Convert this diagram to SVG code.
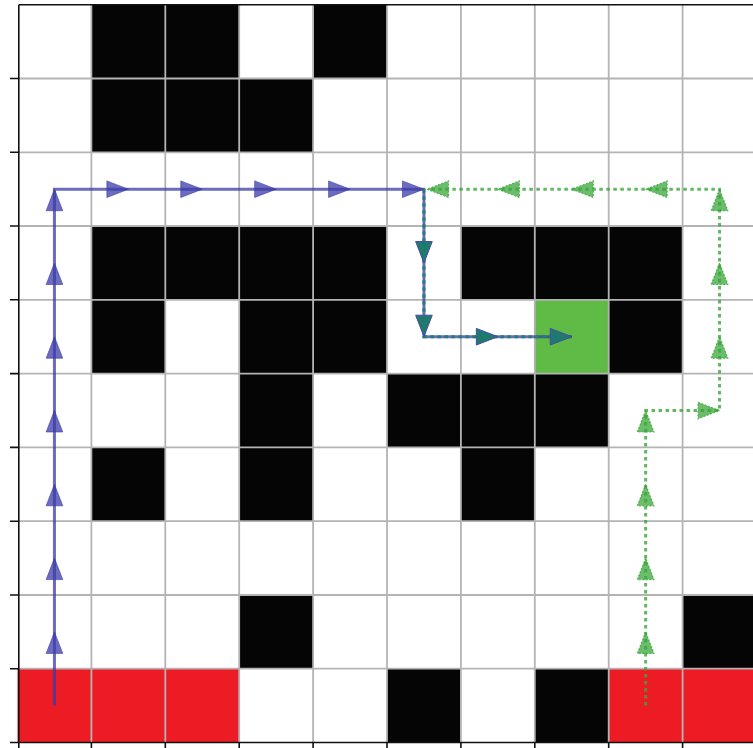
<svg xmlns="http://www.w3.org/2000/svg" xmlns:xlink="http://www.w3.org/1999/xlink" width="753" height="748" viewBox="0 0 753 748">
<style>
.w{fill:#ffffff}
.b{fill:#050505}
.r{fill:#ed1c24}
.g{fill:#5fba46}
.grid{stroke:#b4b4b4;stroke-width:1.8;fill:none}
.spine{stroke:#111;stroke-width:1.6;fill:none}
.bl{stroke:#3b3ba8;stroke-opacity:0.75;stroke-width:3;fill:none}
.gr{stroke:#3aa63a;stroke-opacity:0.8;stroke-width:3;stroke-dasharray:3.5 3.5;fill:none}
.tl{stroke:#1f8070;stroke-width:3;stroke-dasharray:3.5 3.5;fill:none}
.ab{fill:#3b3ba8;fill-opacity:0.75;stroke:#3b3ba8;stroke-opacity:0.6;stroke-width:1}
.ag{fill:#3aa63a;fill-opacity:0.75;stroke:#3aa63a;stroke-opacity:0.8;stroke-width:1.2;stroke-dasharray:2 1.5}
.at{fill:#1f7a6e;stroke:#4a4aa8;stroke-width:1}
</style>
<defs>
<path id="ah" d="M0,0 L-21.5,-8.3 L-21.5,8.3 Z"/>
</defs>
<rect x="0" y="0" width="753" height="748" fill="#ffffff"/>
<g id="cells">
<rect class="b" x="91.4" y="4.7" width="73.9" height="73.8"/>
<rect class="b" x="165.3" y="4.7" width="73.9" height="73.8"/>
<rect class="b" x="313.1" y="4.7" width="73.9" height="73.8"/>
<rect class="b" x="91.4" y="78.5" width="73.9" height="73.8"/>
<rect class="b" x="165.3" y="78.5" width="73.9" height="73.8"/>
<rect class="b" x="239.2" y="78.5" width="73.9" height="73.8"/>
<rect class="b" x="91.4" y="226" width="73.9" height="73.8"/>
<rect class="b" x="165.3" y="226" width="73.9" height="73.8"/>
<rect class="b" x="239.2" y="226" width="73.9" height="73.8"/>
<rect class="b" x="313.1" y="226" width="73.9" height="73.8"/>
<rect class="b" x="460.9" y="226" width="73.9" height="73.8"/>
<rect class="b" x="534.8" y="226" width="73.9" height="73.8"/>
<rect class="b" x="608.7" y="226" width="73.9" height="73.8"/>
<rect class="b" x="91.4" y="299.8" width="73.9" height="73.8"/>
<rect class="b" x="239.2" y="299.8" width="73.9" height="73.8"/>
<rect class="b" x="313.1" y="299.8" width="73.9" height="73.8"/>
<rect class="g" x="534.8" y="299.8" width="73.9" height="73.8"/>
<rect class="b" x="608.7" y="299.8" width="73.9" height="73.8"/>
<rect class="b" x="239.2" y="373.6" width="73.9" height="73.8"/>
<rect class="b" x="387" y="373.6" width="73.9" height="73.8"/>
<rect class="b" x="460.9" y="373.6" width="73.9" height="73.8"/>
<rect class="b" x="534.8" y="373.6" width="73.9" height="73.8"/>
<rect class="b" x="91.4" y="447.4" width="73.9" height="73.8"/>
<rect class="b" x="239.2" y="447.4" width="73.9" height="73.8"/>
<rect class="b" x="460.9" y="447.4" width="73.9" height="73.8"/>
<rect class="b" x="239.2" y="595" width="73.9" height="73.8"/>
<rect class="b" x="682.6" y="595" width="73.9" height="73.8"/>
<rect class="r" x="17.5" y="668.7" width="221.7" height="73.8"/>
<rect class="b" x="387" y="668.7" width="73.9" height="73.8"/>
<rect class="b" x="534.8" y="668.7" width="73.9" height="73.8"/>
<rect class="r" x="608.7" y="668.7" width="147.8" height="73.8"/>
</g>
<g id="grid" class="grid">
<path d="M91.4,4.7V742.5M165.3,4.7V742.5M239.2,4.7V742.5M313.1,4.7V742.5M387,4.7V742.5M460.9,4.7V742.5M534.8,4.7V742.5M608.7,4.7V742.5M682.6,4.7V742.5"/>
<path d="M18.5,78.5H753M18.5,152.3H753M18.5,226H753M18.5,299.8H753M18.5,373.6H753M18.5,447.4H753M18.5,521.2H753M18.5,595H753M18.5,668.7H753"/>
</g>
<g id="axes" class="spine">
<path d="M18.8,4.7V742.5M18.8,4.7H753M18.8,742.5H753"/>
<path d="M10,78.5H18.8M10,152.3H18.8M10,226H18.8M10,299.8H18.8M10,373.6H18.8M10,447.4H18.8M10,521.2H18.8M10,595H18.8M10,668.7H18.8M10,742.5H18.8"/>
<path d="M18.8,742.5V748M91.4,742.5V748M165.3,742.5V748M239.2,742.5V748M313.1,742.5V748M387,742.5V748M460.9,742.5V748M534.8,742.5V748M608.7,742.5V748M682.6,742.5V748"/>
</g>
<g id="connectors">
<g id="blue-path">
<polyline class="bl" points="54.45,705.6 54.45,189.2 423.95,189.2 423.95,336.7 571.75,336.7"/>
<use href="#ah" class="ab" transform="translate(54.45,631.9) rotate(-90)"/>
<use href="#ah" class="ab" transform="translate(54.45,558.1) rotate(-90)"/>
<use href="#ah" class="ab" transform="translate(54.45,484.3) rotate(-90)"/>
<use href="#ah" class="ab" transform="translate(54.45,410.5) rotate(-90)"/>
<use href="#ah" class="ab" transform="translate(54.45,336.7) rotate(-90)"/>
<use href="#ah" class="ab" transform="translate(54.45,263) rotate(-90)"/>
<use href="#ah" class="ab" transform="translate(54.45,189.2) rotate(-90)"/>
<use href="#ah" class="ab" transform="translate(128.35,189.2)"/>
<use href="#ah" class="ab" transform="translate(202.25,189.2)"/>
<use href="#ah" class="ab" transform="translate(276.15,189.2)"/>
<use href="#ah" class="ab" transform="translate(350.05,189.2)"/>
<use href="#ah" class="ab" transform="translate(423.95,189.2)"/>
</g>
<g id="green-path">
<polyline class="gr" points="645.65,705.6 645.65,410.5 719.55,410.5 719.55,189.2 430,189.2"/>
<use href="#ah" class="ag" transform="translate(645.65,631.9) rotate(-90)"/>
<use href="#ah" class="ag" transform="translate(645.65,558.1) rotate(-90)"/>
<use href="#ah" class="ag" transform="translate(645.65,484.3) rotate(-90)"/>
<use href="#ah" class="ag" transform="translate(645.65,410.5) rotate(-90)"/>
<use href="#ah" class="ag" transform="translate(719.55,410.5)"/>
<use href="#ah" class="ag" transform="translate(719.55,336.7) rotate(-90)"/>
<use href="#ah" class="ag" transform="translate(719.55,263) rotate(-90)"/>
<use href="#ah" class="ag" transform="translate(719.55,189.2) rotate(-90)"/>
<use href="#ah" class="ag" transform="translate(645.65,189.2) rotate(180)"/>
<use href="#ah" class="ag" transform="translate(571.75,189.2) rotate(180)"/>
<use href="#ah" class="ag" transform="translate(497.85,189.2) rotate(180)"/>
<use href="#ah" class="ag" transform="translate(427,189.2) rotate(180)"/>
</g>
<g id="shared-path">
<polyline class="tl" points="423.95,189.2 423.95,336.7 571.75,336.7"/>
<use href="#ah" class="at" transform="translate(423.95,263) rotate(90)"/>
<use href="#ah" class="at" transform="translate(423.95,336.7) rotate(90)"/>
<use href="#ah" class="at" transform="translate(497.85,336.7)"/>
<use href="#ah" class="at" transform="translate(571.75,336.7)"/>
</g>
</g>
</svg>
